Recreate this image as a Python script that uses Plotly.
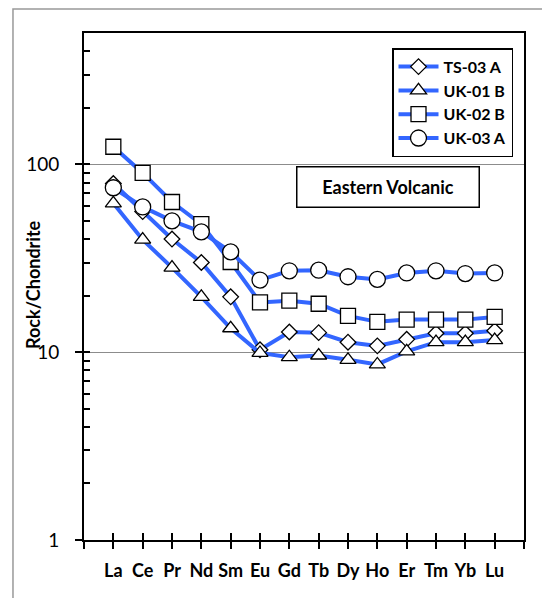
import math
import plotly.graph_objects as go

elements = ["La", "Ce", "Pr", "Nd", "Sm", "Eu", "Gd", "Tb", "Dy", "Ho", "Er", "Tm", "Yb", "Lu"]

ts03a = [79, 56, 40, 30, 19.7, 10.3, 12.8, 12.7, 11.3, 10.8, 11.7, 12.6, 12.6, 13.0]
uk01b = [62, 39.7, 28.2, 19.7, 13.4, 9.9, 9.4, 9.6, 9.1, 8.6, 10.1, 11.3, 11.3, 11.6]
uk02b = [124, 90, 63, 48, 30.2, 18.4, 18.8, 18.1, 15.6, 14.5, 14.9, 14.9, 14.9, 15.4]
uk03a = [75, 59.3, 50, 43.7, 34.2, 24.2, 27.1, 27.3, 25.2, 24.4, 26.4, 27.1, 26.2, 26.4]

series_names = ["TS-03 A", "UK-01 B", "UK-02 B", "UK-03 A"]
series_vals = [ts03a, uk01b, uk02b, uk03a]
symbols = ["diamond", "triangle-up", "square", "circle"]
sizes = [12, 14, 15, 16]

major_ticks = [1, 10, 100]
minor_ticks = [1, 2, 3, 4, 5, 6, 7, 8, 9, 10, 20, 30, 40, 50, 60, 70, 80, 90,
               100, 200, 300, 400]
y_max = 500

FONT = "Lato"
BLUE = "#3366FF"

xpos = list(range(1, len(elements) + 1))

fig = go.Figure()
for name, vals, sym, sz in zip(series_names, series_vals, symbols, sizes):
    fig.add_trace(go.Scatter(
        x=xpos, y=vals, name=name, mode="lines+markers",
        line=dict(color=BLUE, width=4),
        marker=dict(symbol=sym, size=sz, color="white",
                    line=dict(color="black", width=1.3)),
    ))

# invisible trace on overlay axes so they render
fig.add_trace(go.Scatter(x=[xpos[0]], y=[ts03a[0]], xaxis="x2", yaxis="y2",
                         mode="markers", marker=dict(opacity=0),
                         showlegend=False, hoverinfo="skip"))

yr = [0, math.log10(y_max)]
xr = [0, len(elements) + 1]
xt = list(range(0, len(elements) + 2))

fig.update_layout(
    width=550, height=598,
    margin=dict(l=76, r=34, t=25, b=66),
    paper_bgcolor="white", plot_bgcolor="white",
    font=dict(family=FONT, size=18, color="black"),
    xaxis=dict(
        range=xr, tickmode="array", tickvals=xt,
        ticktext=[""] + elements + [""],
        ticks="outside", ticklen=7, tickwidth=1.5, tickcolor="black",
        showline=True, linecolor="black", linewidth=2, mirror=True,
        showgrid=False, zeroline=False,
        tickfont=dict(family=FONT, size=18, color="black", weight="bold"),
        ticklabelstandoff=6,
    ),
    xaxis2=dict(
        range=xr, overlaying="x", anchor="y", side="bottom",
        tickmode="array", tickvals=xt, showticklabels=False,
        ticks="inside", ticklen=7, tickwidth=1.5, tickcolor="black",
        showline=False, showgrid=False, zeroline=False,
    ),
    yaxis=dict(
        type="log", range=yr, tickmode="array", tickvals=major_ticks,
        ticktext=[str(v) for v in major_ticks],
        ticks="outside", ticklen=7, tickwidth=1.5, tickcolor="black",
        showline=True, linecolor="black", linewidth=2, mirror=True,
        showgrid=True, gridcolor="#8c8c8c", gridwidth=1, zeroline=False,
        tickfont=dict(family=FONT, size=19, color="black"),
        ticklabelstandoff=12,
    ),
    yaxis2=dict(
        type="log", range=yr, overlaying="y", anchor="x", side="left",
        tickmode="array", tickvals=minor_ticks, showticklabels=False,
        ticks="inside", ticklen=6, tickwidth=1.5, tickcolor="black",
        showline=False, showgrid=False, zeroline=False,
    ),
    legend=dict(
        x=0.975, xanchor="right", y=0.970, yanchor="top",
        bgcolor="white", bordercolor="black", borderwidth=1.5,
        font=dict(family=FONT, size=16, color="black", weight="bold"),
        itemwidth=40, tracegroupgap=0,
    ),
    showlegend=True,
    annotations=[
        dict(text="<b>Eastern Volcanic</b>", xref="paper", yref="paper",
             x=0.691, y=0.696, xanchor="center", yanchor="middle",
             showarrow=False,
             font=dict(family=FONT, size=18, color="black"),
             bordercolor="black", borderwidth=1.5, borderpad=7,
             width=167, height=25, bgcolor="white"),
        dict(text="<b>Rock/Chondrite</b>", xref="paper", yref="paper",
             x=-0.116, y=0.503, xanchor="center", yanchor="middle",
             showarrow=False, textangle=-90,
             font=dict(family=FONT, size=18, color="black")),
    ],
    shapes=[
        dict(type="rect", xref="paper", yref="paper",
             x0=-0.1614, x1=1.2, y0=-0.2, y1=1.0473,
             line=dict(color="#999999", width=1.5), layer="below"),
    ],
)

fig.write_html("out.html")
